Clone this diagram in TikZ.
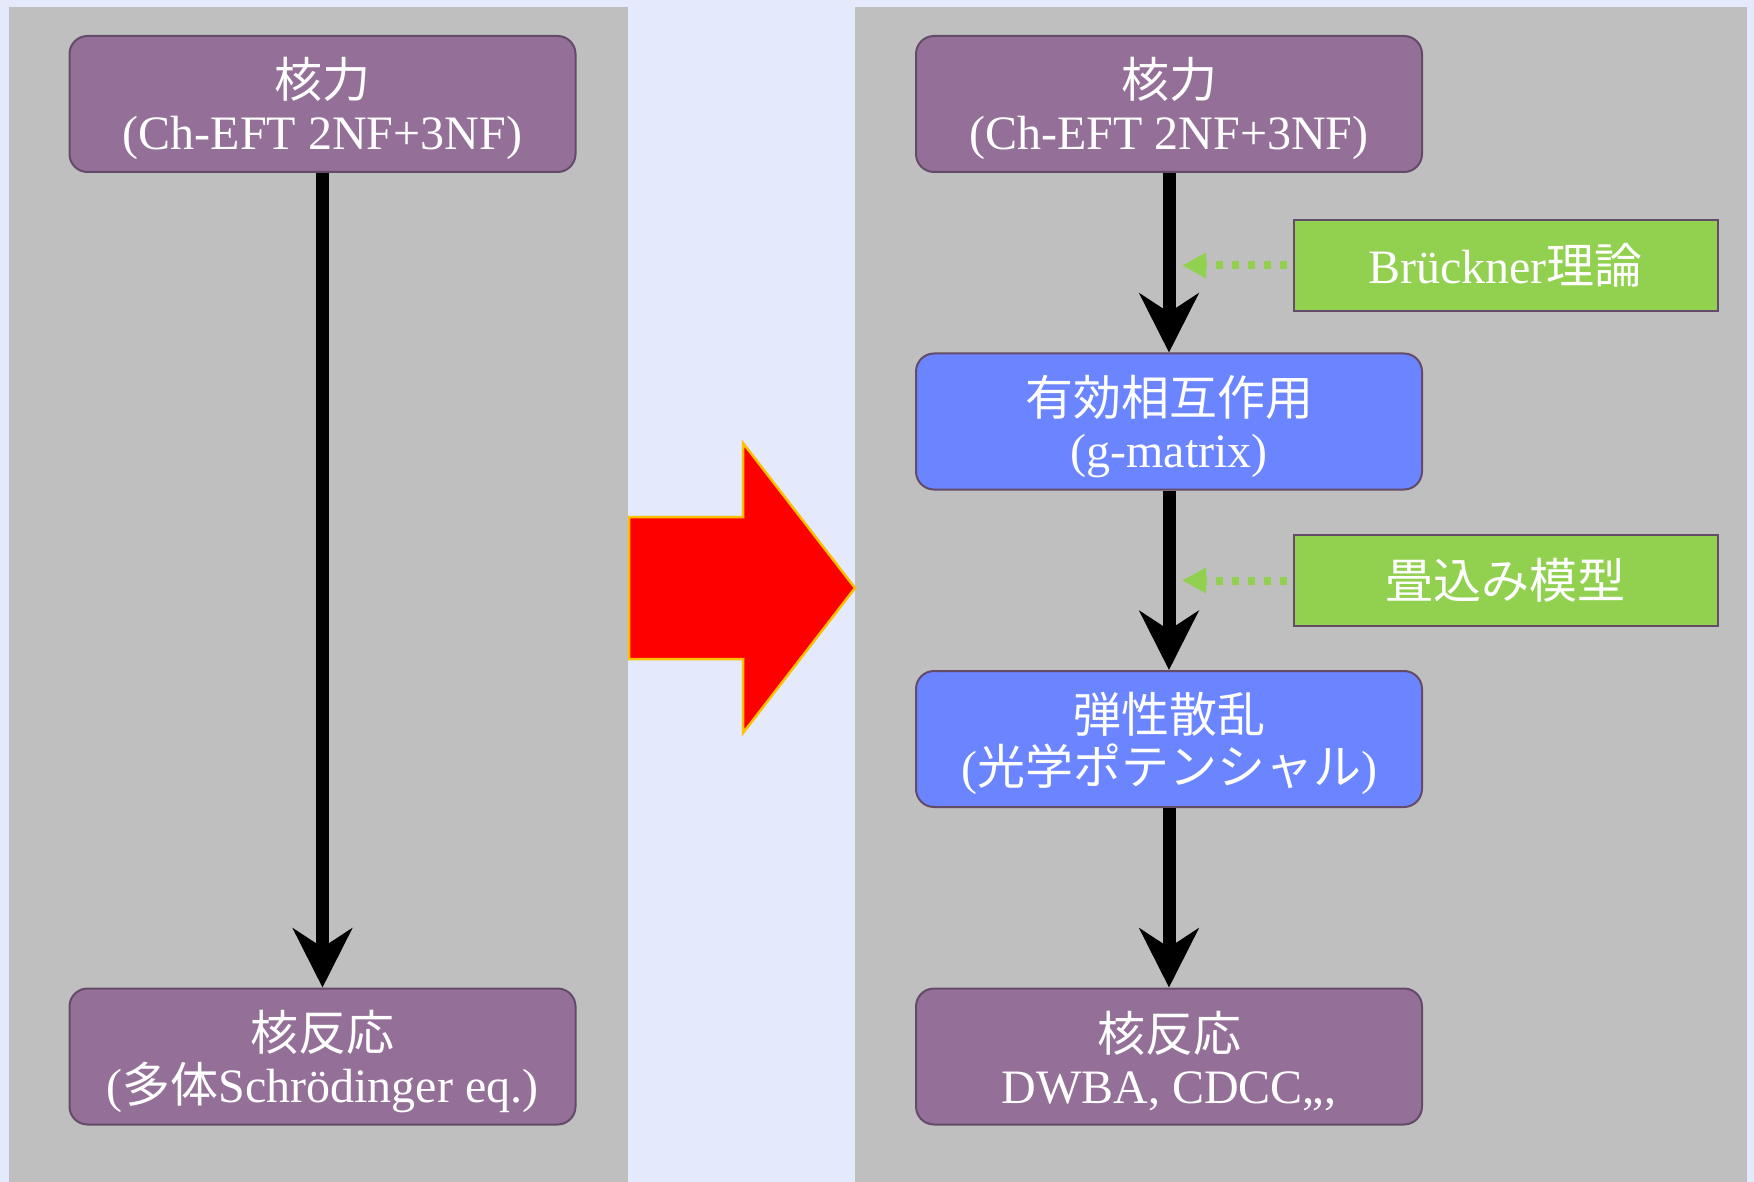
\documentclass[tikz,border=0pt]{standalone}
\usepackage{fontspec}
\setmainfont{Liberation Serif}
\newfontfamily\jpfont{Noto Sans CJK JP}
\usetikzlibrary{arrows.meta}
\newcommand\jtxt[1]{{\jpfont #1}}
\newcommand\tallstrut{\rule{0pt}{1.04em}}
\definecolor{bgblue}{HTML}{E4E9FC}
\definecolor{panelgray}{HTML}{BFBFBF}
\definecolor{purp}{HTML}{947098}
\definecolor{boxedge}{HTML}{644B69}
\definecolor{bluef}{HTML}{6B84FF}
\definecolor{greenf}{HTML}{92D050}
\definecolor{gold}{HTML}{FFC000}
\begin{document}
\begin{tikzpicture}[x=1pt,y=-1pt,
  txt/.style={text=white, font=\fontsize{48}{52}\selectfont, align=center, inner sep=0pt},
  flowbox/.style={txt, draw=boxedge, line width=2pt, rounded corners=18pt, minimum width=506pt, minimum height=136pt},
  purplebox/.style={flowbox, fill=purp},
  bluebox/.style={flowbox, fill=bluef},
  greenbox/.style={txt, draw=boxedge, line width=2pt, fill=greenf, minimum width=424pt, minimum height=91pt},
  mainarrow/.style={line width=13pt, -{Stealth[length=59pt,width=59pt,inset=19pt]}},
  hintarrow/.style={draw=greenf, line width=8pt, dash pattern=on 7pt off 9pt, shorten <=6pt, -{Triangle[length=24pt,width=24pt]}}
]
\useasboundingbox (0,0) rectangle (1754,1182);
\fill[bgblue] (0,0) rectangle (1754,1182);
\fill[panelgray] (9,7) rectangle (628,1182);
\fill[panelgray] (855,7) rectangle (1747,1182);

% left column
\node[purplebox] (L1) at (322.5,104) {\tallstrut\jtxt{核力}\\(Ch-EFT 2NF+3NF)};
\node[purplebox] (L2) at (322.5,1056.5) {\tallstrut\jtxt{核反応}\\(\jtxt{多体}Schrödinger eq.)};
\draw[mainarrow] (L1.south) -- (L2.north);

% big red arrow
\filldraw[fill=red, draw=gold, line width=2.5pt, line join=miter]
  (629,517) -- (743,517) -- (743,443) -- (855,588) -- (743,733) -- (743,659) -- (629,659) -- cycle;

% right column
\node[purplebox] (R1) at (1169,104) {\tallstrut\jtxt{核力}\\(Ch-EFT 2NF+3NF)};
\node[bluebox] (R2) at (1169,421.5) {\tallstrut\jtxt{有効相互作用}\\(g-matrix)};
\node[bluebox] (R3) at (1169,739) {\tallstrut\jtxt{弾性散乱}\\(\jtxt{光学ポテンシャル})};
\node[purplebox] (R4) at (1169,1056.5) {\tallstrut\jtxt{核反応}\\DWBA, CDCC,,,};
\draw[mainarrow] (R1.south) -- (R2.north);
\draw[mainarrow] (R2.south) -- (R3.north);
\draw[mainarrow] (R3.south) -- (R4.north);

% side boxes
\node[greenbox] (G1) at (1505.5,265.5) {Brückner\jtxt{理論}};
\node[greenbox] (G2) at (1505.5,580.5) {\jtxt{畳込み模型}};
\coordinate (D1) at (1182,265.5);
\coordinate (D2) at (1182,580.5);
\draw[hintarrow] (G1.west) -- (D1);
\draw[hintarrow] (G2.west) -- (D2);
\end{tikzpicture}
\end{document}
